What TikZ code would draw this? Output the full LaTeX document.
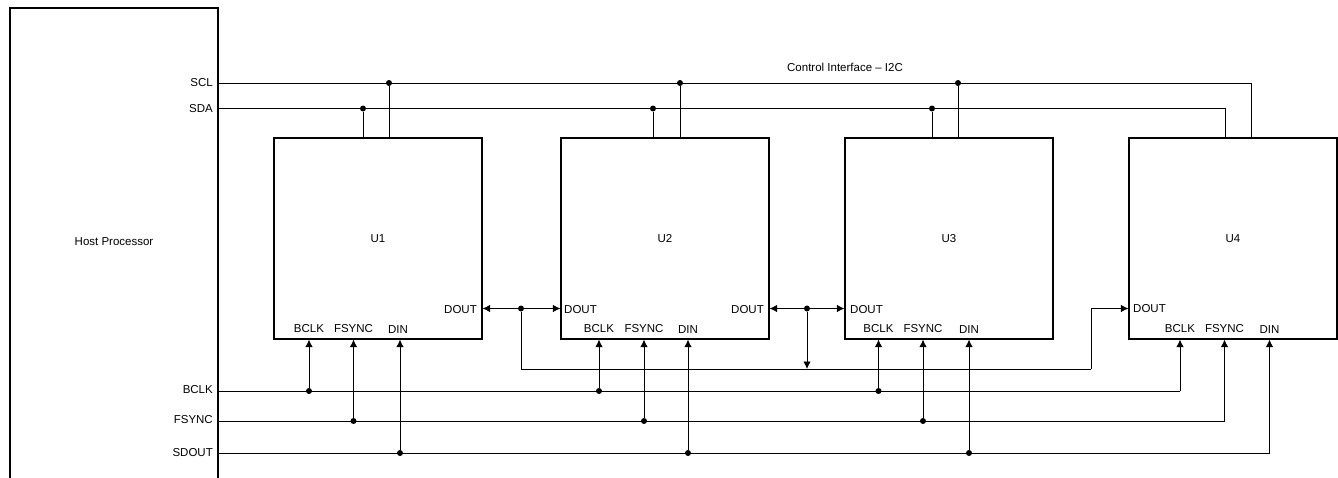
\documentclass[tikz,border=0pt]{standalone}
\usepackage{fontspec}
\setmainfont{Liberation Sans}
\usetikzlibrary{arrows.meta}
\tikzset{
  ubox/.style={draw, line width=1.2pt, minimum width=208pt, minimum height=201pt, inner sep=0pt, font=\fontsize{11.5}{13}\selectfont},
  pin/.style={inner sep=0pt, font=\fontsize{11.5}{13}\selectfont},
  dot/.style={circle, fill=black, inner sep=0pt, minimum size=6pt},
  wire/.style={line width=0.9pt},
  sigin/.style={wire, -{Latex[length=7.5pt,width=7.5pt]}},
  sigboth/.style={wire, {Latex[length=7.5pt,width=7.5pt]}-{Latex[length=7.5pt,width=7.5pt]}}
}
\begin{document}
\begin{tikzpicture}[x=1pt, y=-1pt]
  \useasboundingbox (0,0) rectangle (1338,477);

  \node[draw, line width=1.2pt, minimum width=208pt, minimum height=500pt, inner sep=0pt] (host) at (114,258) {};
  \node[pin] (hostname) at (114,241.5) {Host Processor};
  \node[pin] (ctrl) at (845,67) {Control Interface -- I2C};

  \node[ubox] (U1) at (378,238.5) {U1};
  \node[ubox] (U2) at (665,238.5) {U2};
  \node[ubox] (U3) at (949,238.5) {U3};
  \node[ubox] (U4) at (1233,238.5) {U4};

  \foreach \name/\yy in {SCL/83, SDA/108.5, BCLK/390, FSYNC/420, SDOUT/453}
    \node[pin, anchor=east] (pin\name) at (213,\yy) {\name};

  \foreach \n/\xb/\xf/\xd in {1/309/353.5/398, 2/599/644/688, 3/878.5/923/969, 4/1180/1224.5/1269.5} {
    \node[pin] (bclklabel\n) at (\xb,329) {BCLK};
    \node[pin] (fsynclabel\n) at (\xf,329) {FSYNC};
    \node[pin] (dinlabel\n) at (\xd,330) {DIN};
  }
  \node[pin, anchor=east] (doutlabel1) at (477,310) {DOUT};
  \node[pin, anchor=west] (doutlabel2) at (564,310) {DOUT};
  \node[pin, anchor=east] (doutlabel2b) at (764,310) {DOUT};
  \node[pin, anchor=west] (doutlabel3) at (850,310) {DOUT};
  \node[pin, anchor=west] (doutlabel4) at (1133,309) {DOUT};

  \coordinate (scl0) at (218,83);
  \coordinate (sda0) at (218,108.5);
  \coordinate (bclk0) at (218,391);
  \coordinate (fsync0) at (218,421);
  \coordinate (sdout0) at (218,453);
  \coordinate (scl4) at (1251,83);
  \coordinate (sda4) at (1225,108.5);
  \coordinate (bclk4) at (1180,391);
  \coordinate (fsync4) at (1224.5,421);
  \coordinate (sdout4) at (1269.5,453);

  \draw[wire] (scl0) -- (scl4) -- (scl4 |- U4.north);
  \draw[wire] (sda0) -- (sda4) -- (sda4 |- U4.north);
  \draw[wire] (bclk0) -- (bclk4);
  \draw[wire] (fsync0) -- (fsync4);
  \draw[wire] (sdout0) -- (sdout4);
  \draw[sigin] (bclk4) -- (bclk4 |- U4.south);
  \draw[sigin] (fsync4) -- (fsync4 |- U4.south);
  \draw[sigin] (sdout4) -- (sdout4 |- U4.south);

  \foreach \n/\xs/\xc in {1/363/389, 2/653/680, 3/932/958} {
    \node[dot] (sda\n) at (\xs,108.5) {};
    \node[dot] (scl\n) at (\xc,83) {};
    \draw[wire] (sda\n) -- (sda\n |- U\n.north);
    \draw[wire] (scl\n) -- (scl\n |- U\n.north);
  }
  \foreach \n/\xb/\xf/\xd in {1/309/353.5/400, 2/599/644/688, 3/878.5/923/969} {
    \node[dot] (bclk\n) at (\xb,391) {};
    \node[dot] (fsync\n) at (\xf,421) {};
    \node[dot] (sdout\n) at (\xd,453) {};
    \draw[sigin] (bclk\n) -- (bclk\n |- U\n.south);
    \draw[sigin] (fsync\n) -- (fsync\n |- U\n.south);
    \draw[sigin] (sdout\n) -- (sdout\n |- U\n.south);
  }

  \node[dot] (jointa) at (521,308.5) {};
  \node[dot] (jointb) at (807,308.5) {};
  \coordinate (busa) at (521,369);
  \coordinate (busb) at (807,369);
  \coordinate (busc) at (1091,369);
  \coordinate (busd) at (1091,308.5);

  \draw[sigboth] (U1.east |- jointa) -- (U2.west |- jointa);
  \draw[sigboth] (U2.east |- jointb) -- (U3.west |- jointb);
  \draw[wire] (jointa) -- (busa) -- (busc);
  \draw[sigin] (jointb) -- (busb);
  \draw[sigin] (busc) -- (busd) -- (U4.west |- busd);
\end{tikzpicture}
\end{document}
